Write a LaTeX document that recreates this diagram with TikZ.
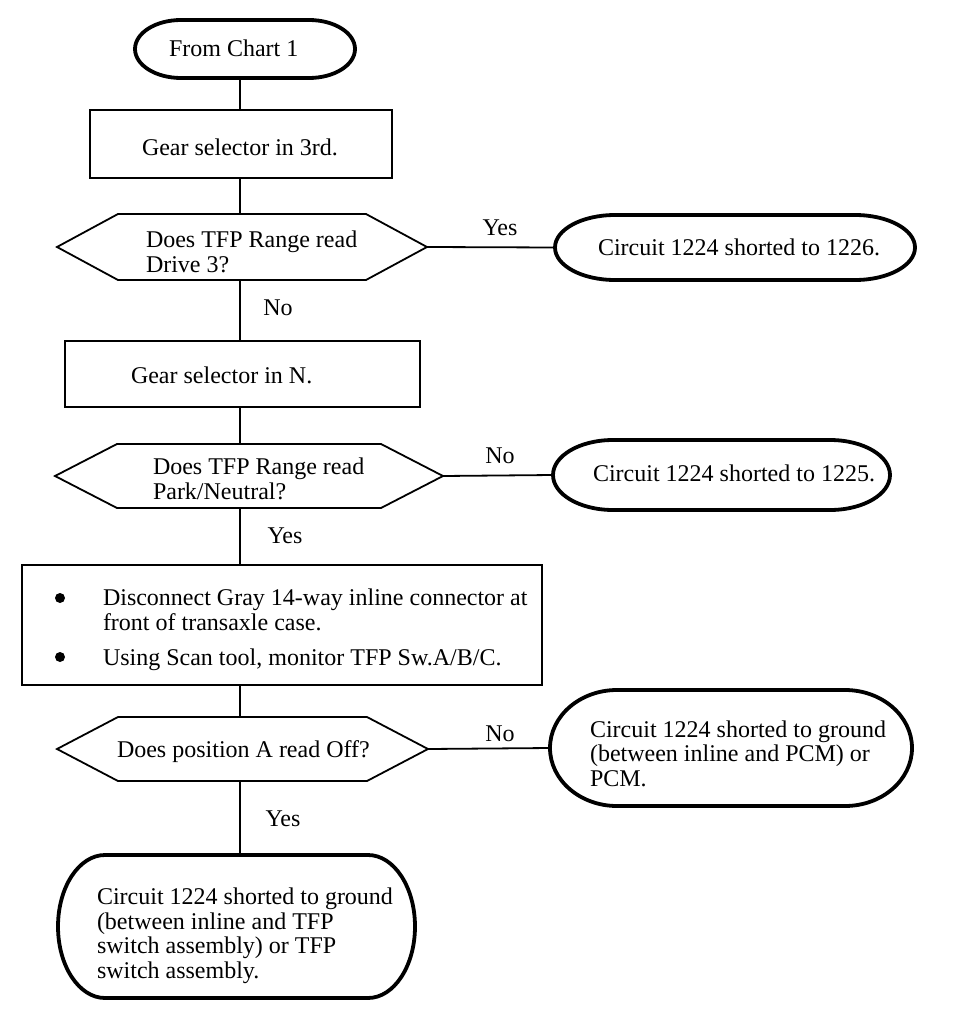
\documentclass[tikz,border=0pt]{standalone}
\usepackage{fontspec}
\setmainfont{Liberation Serif}
\newcommand{\hexframe}[2]{\draw[hexline] (#1.west) -- ([xshift=#2]#1.north west) -- ([xshift=-#2]#1.north east) -- (#1.east) -- ([xshift=-#2]#1.south east) -- ([xshift=#2]#1.south west) -- cycle;}
\newcommand{\ovalframe}[3]{\draw[ovalline] ([xshift=#2]#1.north west) -- ([xshift=-#2]#1.north east) arc[start angle=90,end angle=-90,x radius=#2,y radius=#3] -- ([xshift=#2]#1.south west) arc[start angle=270,end angle=90,x radius=#2,y radius=#3] -- cycle;}
\begin{document}
\begin{tikzpicture}[x=1pt,y=1pt,
  every node/.style={font=\fontsize{24}{24.5}\selectfont},
  area/.style n args={2}{inner sep=0pt, outer sep=0pt, minimum width=#1, minimum height=#2},
  boxframe/.style={draw, line width=2.8pt},
  ovalline/.style={line width=3.8pt},
  hexline/.style={line width=1.8pt},
  conn/.style={line width=1.8pt},
  txt/.style={inner sep=0pt, outer sep=0pt, anchor=base west, align=left},
  lbl/.style={inner sep=0pt, anchor=base},
  dot/.style={circle, fill, inner sep=0pt, minimum size=10pt}]
\fill[white] (0,0) rectangle (960,-1016);
\useasboundingbox (0,0) rectangle (960,-1016);
\coordinate (spine) at (240,0);

% shapes
\node[area={220pt}{58pt}] (start) at (245,-49) {};
\node[area={302pt}{68pt}, boxframe] (box1) at (241,-144) {};
\node[area={370pt}{66pt}] (d1) at (242,-247) {};
\node[area={360pt}{65pt}] (o1226) at (735,-247.5) {};
\node[area={355pt}{66pt}, boxframe] (box2) at (242.5,-374) {};
\node[area={388pt}{64pt}] (d2) at (249,-476) {};
\node[area={337pt}{70pt}] (o1225) at (721.5,-475) {};
\node[area={520pt}{120pt}, boxframe] (box3) at (282,-625) {};
\node[area={371pt}{64pt}] (d3) at (242.5,-749) {};
\node[area={362pt}{116pt}] (opcm) at (731,-748) {};
\node[area={357pt}{143pt}] (obot) at (236.5,-926.5) {};

\ovalframe{start}{46pt}{29pt}
\ovalframe{o1226}{60pt}{32.5pt}
\ovalframe{o1225}{60pt}{35pt}
\ovalframe{opcm}{67pt}{58pt}
\ovalframe{obot}{47pt}{71.5pt}
\hexframe{d1}{61pt}
\hexframe{d2}{62pt}
\hexframe{d3}{61pt}

% texts (base = baseline of the last line)
\node[txt] (tstart) at (169,-57) {From Chart 1};
\node[txt] (tbox1) at (142,-156) {Gear selector in 3rd.};
\node[txt] (td1) at (146,-272) {Does TFP Range read\\Drive 3?};
\node[txt] (to1226) at (598,-255) {Circuit 1224 shorted to 1226.};
\node[txt] (tbox2) at (131,-383) {Gear selector in N.};
\node[txt] (td2) at (153,-499) {Does TFP Range read\\Park/Neutral?};
\node[txt] (to1225) at (593,-481) {Circuit 1224 shorted to 1225.};
\node[dot] (b1) at (60,-598) {};
\node[dot] (b2) at (60,-657) {};
\node[txt] (tb1) at (103,-630) {Disconnect Gray 14-way inline connector at\\front of transaxle case.};
\node[txt] (tb2) at (103,-665) {Using Scan tool, monitor TFP Sw.A/B/C.};
\node[txt] (td3) at (117,-757) {Does position A read Off?};
\node[txt] (topcm) at (590,-786) {Circuit 1224 shorted to ground\\(between inline and PCM) or\\PCM.};
\node[txt] (tobot) at (97,-978) {Circuit 1224 shorted to ground\\(between inline and TFP\\switch assembly) or TFP\\switch assembly.};

% labels
\node[lbl] (yes1) at (500,-236) {Yes};
\node[lbl] (no1) at (278,-315) {No};
\node[lbl] (no2) at (500,-463) {No};
\node[lbl] (yes2) at (285,-543) {Yes};
\node[lbl] (no3) at (500,-741) {No};
\node[lbl] (yes3) at (283,-826) {Yes};

% connectors
\draw[conn] (start.south -| spine) -- (box1.north -| spine);
\draw[conn] (box1.south -| spine) -- (d1.north -| spine);
\draw[conn] (d1.east) -- (o1226.west);
\draw[conn] (d1.south -| spine) -- (box2.north -| spine);
\draw[conn] (box2.south -| spine) -- (d2.north -| spine);
\draw[conn] (d2.east) -- (o1225.west);
\draw[conn] (d2.south -| spine) -- (box3.north -| spine);
\draw[conn] (box3.south -| spine) -- (d3.north -| spine);
\draw[conn] (d3.east) -- (opcm.west);
\draw[conn] (d3.south -| spine) -- (obot.north -| spine);
\end{tikzpicture}
\end{document}
